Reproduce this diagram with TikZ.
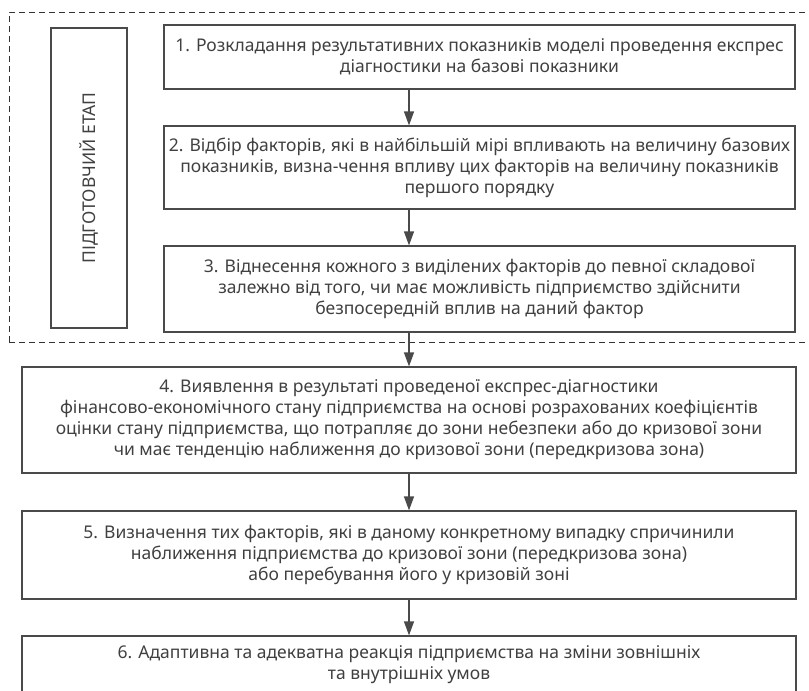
\documentclass[tikz,border=0pt]{standalone}
\usepackage{fontspec}
\setmainfont{Noto Sans}
\usetikzlibrary{arrows.meta}
\definecolor{ln}{HTML}{4A4A4A}
\definecolor{tx}{HTML}{404040}
\tikzset{
  stepbox/.style={draw=ln, line width=1.2pt, text=tx, align=center, inner sep=0pt, font=\fontsize{17.5}{21}\selectfont},
  flow/.style={draw=ln, line width=1.2pt, -{Triangle[width=10pt,length=14pt]}},
  zone/.style={draw=black!80, line width=1pt, dash pattern=on 6pt off 4pt}
}
\begin{document}
\begin{tikzpicture}[x=1pt,y=-1pt]
\useasboundingbox (0,0) rectangle (809,691);
\clip (0,0) rectangle (809,691);
\draw[zone] (9,342) -- (9,12) -- (830,12) (9,342) -- (830,342);
\node[stepbox, rotate=90, minimum width=300, minimum height=76] (stage) at (89,178) {ПІДГОТОВЧИЙ ЕТАП};
\node[stepbox, minimum width=631, minimum height=64] (b1) at (479.5,57) {1. Розкладання результативних показників моделі проведення експрес\\діагностики на базові показники};
\node[stepbox, minimum width=631, minimum height=83] (b2) at (479.5,167.5) {2. Відбір факторів, які в найбільшій мірі впливають на величину базових\\показників, визна-чення впливу цих факторів на величину показників\\першого порядку};
\node[stepbox, minimum width=631, minimum height=86] (b3) at (479.5,289) {3. Віднесення кожного з виділених факторів до певної складової\\залежно від того, чи має можливість підприємство здійснити\\безпосередній вплив на даний фактор};
\node[stepbox, minimum width=774, minimum height=106] (b4) at (409,420) {4. Виявлення в результаті проведеної експрес-діагностики\\фінансово-економічного стану підприємства на основі розрахованих коефіцієнтів\\оцінки стану підприємства, що потрапляє до зони небезпеки або до кризової зони\\чи має тенденцію наближення до кризової зони (передкризова зона)};
\node[stepbox, minimum width=774, minimum height=88] (b5) at (409,555) {5. Визначення тих факторів, які в даному конкретному випадку спричинили\\наближення підприємства до кризової зони (передкризова зона)\\або перебування його у кризовій зоні};
\node[stepbox, minimum width=774, minimum height=58] (b6) at (409,665) {6. Адаптивна та адекватна реакція підприємства на зміни зовнішніх\\та внутрішніх умов};
\draw[flow] (b1.south -| b4.north) -- (b2.north -| b4.north);
\draw[flow] (b2.south -| b4.north) -- (b3.north -| b4.north);
\draw[flow] (b3.south -| b4.north) -- (b4.north);
\draw[flow] (b4.south) -- (b5.north);
\draw[flow] (b5.south) -- (b6.north);
\end{tikzpicture}
\end{document}
